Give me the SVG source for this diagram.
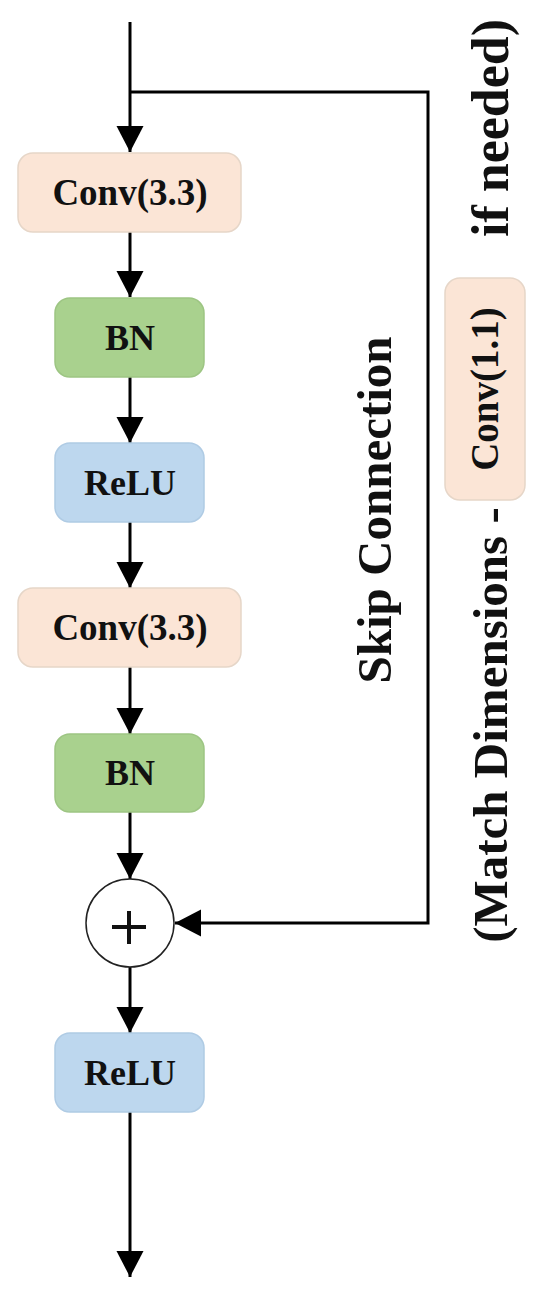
<svg xmlns="http://www.w3.org/2000/svg" width="550" height="1297" viewBox="0 0 550 1297">
<style>
.lbl{font-family:"Liberation Serif","Times New Roman",serif;font-weight:bold;fill:#111;text-anchor:middle}
.conv{fill:#FBE5D6;stroke:#E6D6C8;stroke-width:1.5}
.bn{fill:#A9D18E;stroke:#9DC583;stroke-width:1.5}
.relu{fill:#BDD7EE;stroke:#AFCBE4;stroke-width:1.5}
.wire{fill:none;stroke:#000;stroke-width:3}
</style>
<defs>
<marker id="ah" markerUnits="userSpaceOnUse" markerWidth="27" markerHeight="28" refX="26" refY="14" orient="auto" viewBox="0 0 27 28">
<path d="M0,0.5 L26,14 L0,27.5 z" fill="#000"/>
</marker>
</defs>
<rect width="550" height="1297" fill="#fff"/>
<g id="connectors">
<path class="wire" d="M130,22 V152" marker-end="url(#ah)"/>
<path class="wire" d="M130,92 H428 V923 H175" marker-end="url(#ah)"/>
<path class="wire" d="M130,232 V297" marker-end="url(#ah)"/>
<path class="wire" d="M130,377 V443" marker-end="url(#ah)"/>
<path class="wire" d="M130,522 V588" marker-end="url(#ah)"/>
<path class="wire" d="M130,667 V734" marker-end="url(#ah)"/>
<path class="wire" d="M130,812 V879" marker-end="url(#ah)"/>
<path class="wire" d="M130,967 V1033" marker-end="url(#ah)"/>
<path class="wire" d="M130,1112 V1277" marker-end="url(#ah)"/>
</g>
<g id="conv1">
<rect class="conv" x="18" y="153" width="223" height="79" rx="15"/>
<text class="lbl" x="130" y="205" font-size="37">Conv(3.3)</text>
</g>
<g id="bn1">
<rect class="bn" x="55" y="298" width="149" height="79" rx="15"/>
<text class="lbl" x="130" y="350" font-size="36">BN</text>
</g>
<g id="relu1">
<rect class="relu" x="55" y="443" width="149" height="79" rx="15"/>
<text class="lbl" x="130" y="495" font-size="36">ReLU</text>
</g>
<g id="conv2">
<rect class="conv" x="18" y="588" width="223" height="79" rx="15"/>
<text class="lbl" x="130" y="640" font-size="37">Conv(3.3)</text>
</g>
<g id="bn2">
<rect class="bn" x="55" y="734" width="149" height="78" rx="15"/>
<text class="lbl" x="130" y="785" font-size="36">BN</text>
</g>
<g id="add">
<circle cx="130" cy="923" r="44" fill="#fff" stroke="#222" stroke-width="1.5"/>
<path d="M112,927 H146 M129,911 V944" stroke="#111" stroke-width="4" fill="none"/>
</g>
<g id="relu2">
<rect class="relu" x="55" y="1033" width="149" height="79" rx="15"/>
<text class="lbl" x="130" y="1085" font-size="36">ReLU</text>
</g>
<g id="skip-label">
<text class="lbl" font-size="49" transform="translate(391,510) rotate(-90)">Skip Connection</text>
</g>
<g id="conv11">
<rect class="conv" x="445" y="278" width="80" height="222" rx="15"/>
<text class="lbl" font-size="39" transform="translate(498,389) rotate(-90)">Conv(1.1)</text>
</g>
<g id="match-label">
<text class="lbl" font-size="49" transform="translate(507,725) rotate(-90)">(Match Dimensions -</text>
<text class="lbl" font-size="52" transform="translate(508,128) rotate(-90)">if needed)</text>
</g>
</svg>
